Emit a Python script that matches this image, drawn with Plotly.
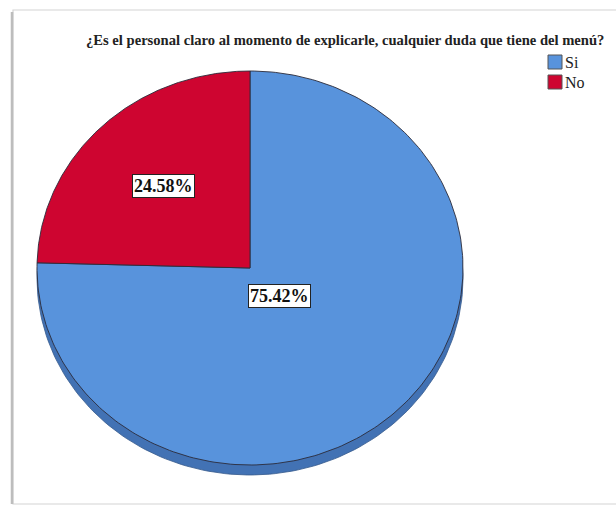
import numpy as np
import plotly.graph_objects as go

# Survey answers and their shares (%)
categories = ["Si", "No"]
shares = [75.42, 24.58]
colors = ["#5893DC", "#CE0530"]
depth_color = "#4272B4"
title = "¿Es el personal claro al momento de explicarle, cualquier duda que tiene del menú?"

SERIF = "'Liberation Serif', 'Times New Roman', 'DejaVu Serif', serif"

W, H = 616, 506
cx, cy = 250, 268          # pie centre (pixel-like axis units)
rx, ry = 213, 197          # tilted pie radii
depth = 10                 # thickness of the 3D rim
label_r = [0.20, 0.58]     # label distance as a fraction of the radius


def arc(t0, t1, dy=0.0, n=240):
    """Points of an elliptic wedge, angles clockwise from 12 o'clock."""
    t = np.radians(np.linspace(t0, t1, n))
    xs = cx + rx * np.sin(t)
    ys = cy + dy - ry * np.cos(t)
    return xs, ys


fig = go.Figure()

# rim under the pie
xs, ys = arc(0, 360, dy=depth)
fig.add_trace(go.Scatter(x=xs, y=ys, fill="toself", mode="lines",
                         fillcolor=depth_color, line=dict(color="#35598c", width=0.8),
                         showlegend=False, hoverinfo="skip"))

total = sum(shares)
start = 0.0
annotations = []
for cat, val, col, lr in zip(categories, shares, colors, label_r):
    sweep = 360.0 * val / total
    ax_, ay_ = arc(start, start + sweep)
    px = np.concatenate([[cx], ax_, [cx]])
    py = np.concatenate([[cy], ay_, [cy]])
    fig.add_trace(go.Scatter(x=px, y=py, fill="toself", mode="lines",
                             fillcolor=col, line=dict(color="#2b2b3a", width=0.9),
                             showlegend=False, name=cat, hoverinfo="skip"))
    mid = np.radians(start + sweep / 2)
    annotations.append(dict(
        x=cx + lr * rx * np.sin(mid), y=cy - lr * ry * np.cos(mid),
        xref="x", yref="y", text=f"<b>{val:.2f}%</b>", showarrow=False,
        font=dict(family=SERIF, size=18, color="#111111"),
        bgcolor="white", bordercolor="#222222", borderwidth=1, borderpad=1))
    start += sweep

# legend: swatches and labels
shapes = []
leg_x, leg_y, leg_step, sw = 548, 62, 20, 14
for i, (cat, col) in enumerate(zip(categories, colors)):
    yc = leg_y + i * leg_step
    shapes.append(dict(type="rect", xref="x", yref="y",
                       x0=leg_x, x1=leg_x + sw, y0=yc - sw / 2, y1=yc + sw / 2,
                       fillcolor=col, line=dict(color="#555555", width=1)))
    annotations.append(dict(x=leg_x + sw + 1, y=yc, xref="x", yref="y", text=cat,
                            showarrow=False, xanchor="left", yanchor="middle",
                            font=dict(family=SERIF, size=16, color="#222222")))

annotations.append(dict(x=345, y=40, xref="x", yref="y", text=f"<b>{title}</b>",
                        showarrow=False,
                        font=dict(family=SERIF, size=14.6, color="#222222")))

shapes += [
    # card frame with a soft left shadow
    dict(type="rect", xref="x", yref="y", x0=13, x1=630, y0=10, y1=504,
         line=dict(color="#d4d4d4", width=1.2), fillcolor="rgba(0,0,0,0)", layer="below"),
    dict(type="line", xref="x", yref="y", x0=12, x1=12, y0=12, y1=504,
         line=dict(color="#bdbdbd", width=2.5), layer="below"),
]

fig.update_layout(
    width=W, height=H, autosize=False,
    margin=dict(l=0, r=0, t=0, b=0),
    paper_bgcolor="white", plot_bgcolor="white",
    xaxis=dict(range=[0, W], visible=False, fixedrange=True),
    yaxis=dict(range=[H, 0], visible=False, fixedrange=True),
    annotations=annotations, shapes=shapes, showlegend=False,
)

fig.write_html("out.html")
